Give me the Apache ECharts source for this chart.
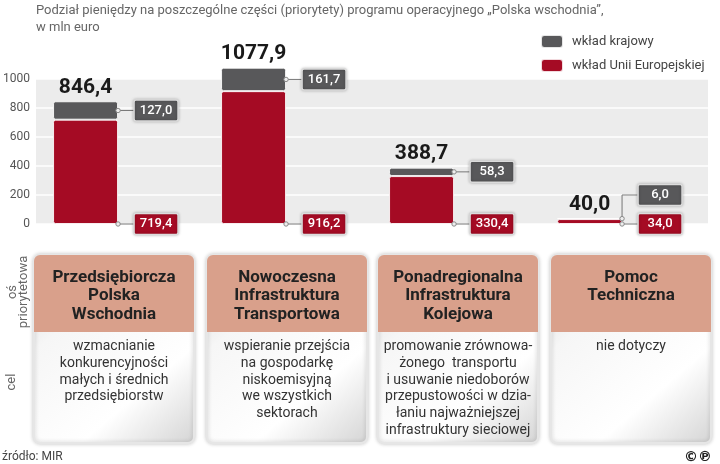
<!DOCTYPE html>
<html lang="pl">
<head>
<meta charset="utf-8">
<title>Polska wschodnia</title>
<script src="https://cdn.jsdelivr.net/npm/echarts@6/dist/echarts.min.js"></script>
<style>
  html, body { margin: 0; padding: 0; background: #fff; }
  #chart { width: 720px; height: 464px; }
</style>
</head>
<body>
<div id="chart"></div>
<script>
// dane (mln euro)
var categories = ['Przedsiębiorcza Polska Wschodnia', 'Nowoczesna Infrastruktura Transportowa',
                  'Ponadregionalna Infrastruktura Kolejowa', 'Pomoc Techniczna'];
var wkladUE = [719.4, 916.2, 330.4, 34.0];
var wkladKrajowy = [127.0, 161.7, 58.3, 6.0];
var yTicks = [0, 200, 400, 600, 800, 1000];

// opisy pod wykresem
var panelHeaders = ['Przedsiębiorcza\nPolska\nWschodnia', 'Nowoczesna\nInfrastruktura\nTransportowa',
                    'Ponadregionalna\nInfrastruktura\nKolejowa', 'Pomoc\nTechniczna'];
var panelBodies = ['wzmacnianie\nkonkurencyjności\nmałych i średnich\nprzedsiębiorstw',
                   'wspieranie przejścia\nna gospodarkę\nniskoemisyjną\nwe wszystkich\nsektorach',
                   'promowanie zrównowa-\nżonego  transportu\ni usuwanie niedoborów\nprzepustowości w dzia-\nłaniu najważniejszej\ninfrastruktury sieciowej',
                   'nie dotyczy'];

var RED = '#a50b24', GREY = '#58585a';
var barW = 65, barGapPct = 6;
var barShift = (barW + barW * barGapPct / 100) / 2;

function fmt(v) { return v.toFixed(1).replace('.', ','); }

var labelData = categories.map(function (c, i) { return [i, wkladUE[i], wkladKrajowy[i]]; });

function renderLabels(params, api) {
  var i = api.value(0), eu = api.value(1), kr = api.value(2);
  var base = api.coord([i, 0]);
  var xc = base[0] - barShift;
  var xr = xc + barW / 2;
  var y0 = base[1];
  var yTop = api.coord([i, eu + kr])[1];
  var yMid = api.coord([i, eu + kr / 2])[1];
  var lyK = Math.min(yMid, y0 - 29);
  var bx = xr + 16, bw = 44, bh = 21;
  var lineStyle = { stroke: '#777', lineWidth: 1, fill: null };
  var dotStyle = { fill: '#eee', stroke: '#888', lineWidth: 1 };
  var kPoints = lyK === yMid ? [[xr, yMid], [bx, lyK]] : [[xr, yMid], [xr, lyK], [bx, lyK]];
  function box(y, color, txt) {
    return [
      { type: 'rect', shape: { x: bx, y: y - bh / 2, width: bw, height: bh, r: 2 },
        style: { fill: color, stroke: '#dcdcdc', lineWidth: 1.5, shadowBlur: 3, shadowColor: 'rgba(0,0,0,0.25)' } },
      { type: 'text', x: bx + bw / 2, y: y,
        style: { text: txt, fill: '#fff', font: '500 13px Roboto', align: 'center', verticalAlign: 'middle' } }
    ];
  }
  var children = [
    { type: 'polyline', shape: { points: kPoints }, style: lineStyle },
    { type: 'line', shape: { x1: xr, y1: y0, x2: bx, y2: y0 }, style: lineStyle },
    { type: 'circle', shape: { cx: xr, cy: yMid, r: 2.2 }, style: dotStyle },
    { type: 'circle', shape: { cx: xr, cy: y0, r: 2.2 }, style: dotStyle },
    { type: 'text', x: xc, y: yTop - 3,
      style: { text: fmt(eu + kr), fill: '#1a1a1a', font: 'bold 21px Roboto', align: 'center', verticalAlign: 'bottom' } }
  ].concat(box(lyK, GREY, fmt(kr))).concat(box(y0, RED, fmt(eu)));
  return { type: 'group', children: children };
}

// panele z opisami
var panelX = [34, 207, 378, 551], panelW = 160, panelTop = 255, headH = 77, panelH = 188;
var panelGraphics = [];
panelX.forEach(function (x, i) {
  panelGraphics.push({
    type: 'rect', shape: { x: x, y: panelTop, width: panelW, height: panelH, r: 6 },
    style: {
      fill: new echarts.graphic.LinearGradient(0, 0, 1, 1, [
        { offset: 0, color: '#d6d6d6' }, { offset: 0.3, color: '#f6f6f6' },
        { offset: 0.7, color: '#ffffff' }, { offset: 1, color: '#d4d4d4' }]),
      stroke: '#e6e6e6', lineWidth: 2, shadowBlur: 4, shadowColor: 'rgba(0,0,0,0.2)'
    }
  });
  panelGraphics.push({
    type: 'rect', shape: { x: x, y: panelTop, width: panelW, height: headH, r: [6, 6, 0, 0] },
    style: { fill: '#d9a08b' }
  });
  panelGraphics.push({
    type: 'text', x: x + panelW / 2, y: panelTop + 13,
    style: { text: panelHeaders[i], font: 'bold 17px Roboto', fill: '#222', align: 'center',
             verticalAlign: 'top', lineHeight: 18.5 }
  });
  panelGraphics.push({
    type: 'text', x: x + panelW / 2, y: panelTop + headH + 6,
    style: { text: panelBodies[i], font: '14px Roboto', fill: '#333', align: 'center',
             verticalAlign: 'top', lineHeight: 16.8 }
  });
});
panelGraphics.push(
  { type: 'text', x: 18, y: 292, rotation: Math.PI / 2,
    style: { text: 'oś\npriorytetowa', font: '13px Roboto', fill: '#666', align: 'center', verticalAlign: 'middle', lineHeight: 11 } },
  { type: 'text', x: 12, y: 382, rotation: Math.PI / 2,
    style: { text: 'cel', font: '13px Roboto', fill: '#666', align: 'center', verticalAlign: 'middle' } },
  { type: 'text', x: 2, y: 457,
    style: { text: 'źródło: MIR', font: '12px Roboto', fill: '#444', verticalAlign: 'middle' } },
  { type: 'text', x: 712, y: 457,
    style: { text: '©℗', font: 'bold 14px "DejaVu Sans"', fill: '#222', align: 'right', verticalAlign: 'middle' } }
);

var myChart = echarts.init(document.getElementById('chart'));
var option = {
  animation: false,
  title: {
    text: 'Podział pieniędzy na poszczególne części (priorytety) programu operacyjnego „Polska wschodnia”,\nw mln euro',
    left: 36, top: 2, padding: 0,
    textStyle: { fontSize: 13, fontWeight: 'normal', color: '#666', fontFamily: 'Roboto', lineHeight: 17 }
  },
  legend: {
    data: ['wkład krajowy', 'wkład Unii Europejskiej'],
    orient: 'vertical', left: 540, top: 34, padding: 0,
    itemWidth: 22, itemHeight: 13, itemGap: 9, icon: 'roundRect',
    textStyle: { fontSize: 13, color: '#444', fontFamily: 'Roboto', padding: [0, 0, 0, 4] }
  },
  grid: {
    left: 36, right: 12, top: 79, bottom: 240,
    show: true, backgroundColor: '#ececec', borderWidth: 0
  },
  xAxis: {
    type: 'category', data: categories,
    axisLine: { show: false }, axisTick: { show: false }, axisLabel: { show: false }
  },
  yAxis: {
    type: 'value', min: yTicks[0], max: yTicks[yTicks.length - 1], interval: 200,
    axisLine: { show: false }, axisTick: { show: false },
    axisLabel: { color: '#555', fontSize: 12, fontFamily: 'Roboto', margin: 6,
                 formatter: function (v) { return String(v); } },
    splitLine: { lineStyle: { color: '#fff', width: 1.5 } }
  },
  series: [
    {
      name: 'wkład Unii Europejskiej', type: 'bar', stack: 'suma', data: wkladUE,
      barWidth: barW, barGap: barGapPct + '%', clip: false,
      itemStyle: { color: RED, borderColor: 'rgba(255,255,255,0.85)', borderWidth: 1, borderRadius: 2 }
    },
    {
      name: 'wkład krajowy', type: 'bar', stack: 'suma', data: wkladKrajowy,
      barWidth: barW, clip: false,
      itemStyle: { color: GREY, borderColor: 'rgba(255,255,255,0.85)', borderWidth: 1, borderRadius: 2 }
    },
    {
      name: 'odstep', type: 'bar', stack: 'odstep', data: categories.map(function () { return 0; }),
      barWidth: barW, silent: true, itemStyle: { color: 'transparent' }
    },
    {
      name: 'etykiety', type: 'custom', data: labelData, renderItem: renderLabels,
      encode: { x: 0, y: 1 }, z: 5, silent: true
    }
  ],
  graphic: panelGraphics
};
myChart.setOption(option);
</script>
</body>
</html>
